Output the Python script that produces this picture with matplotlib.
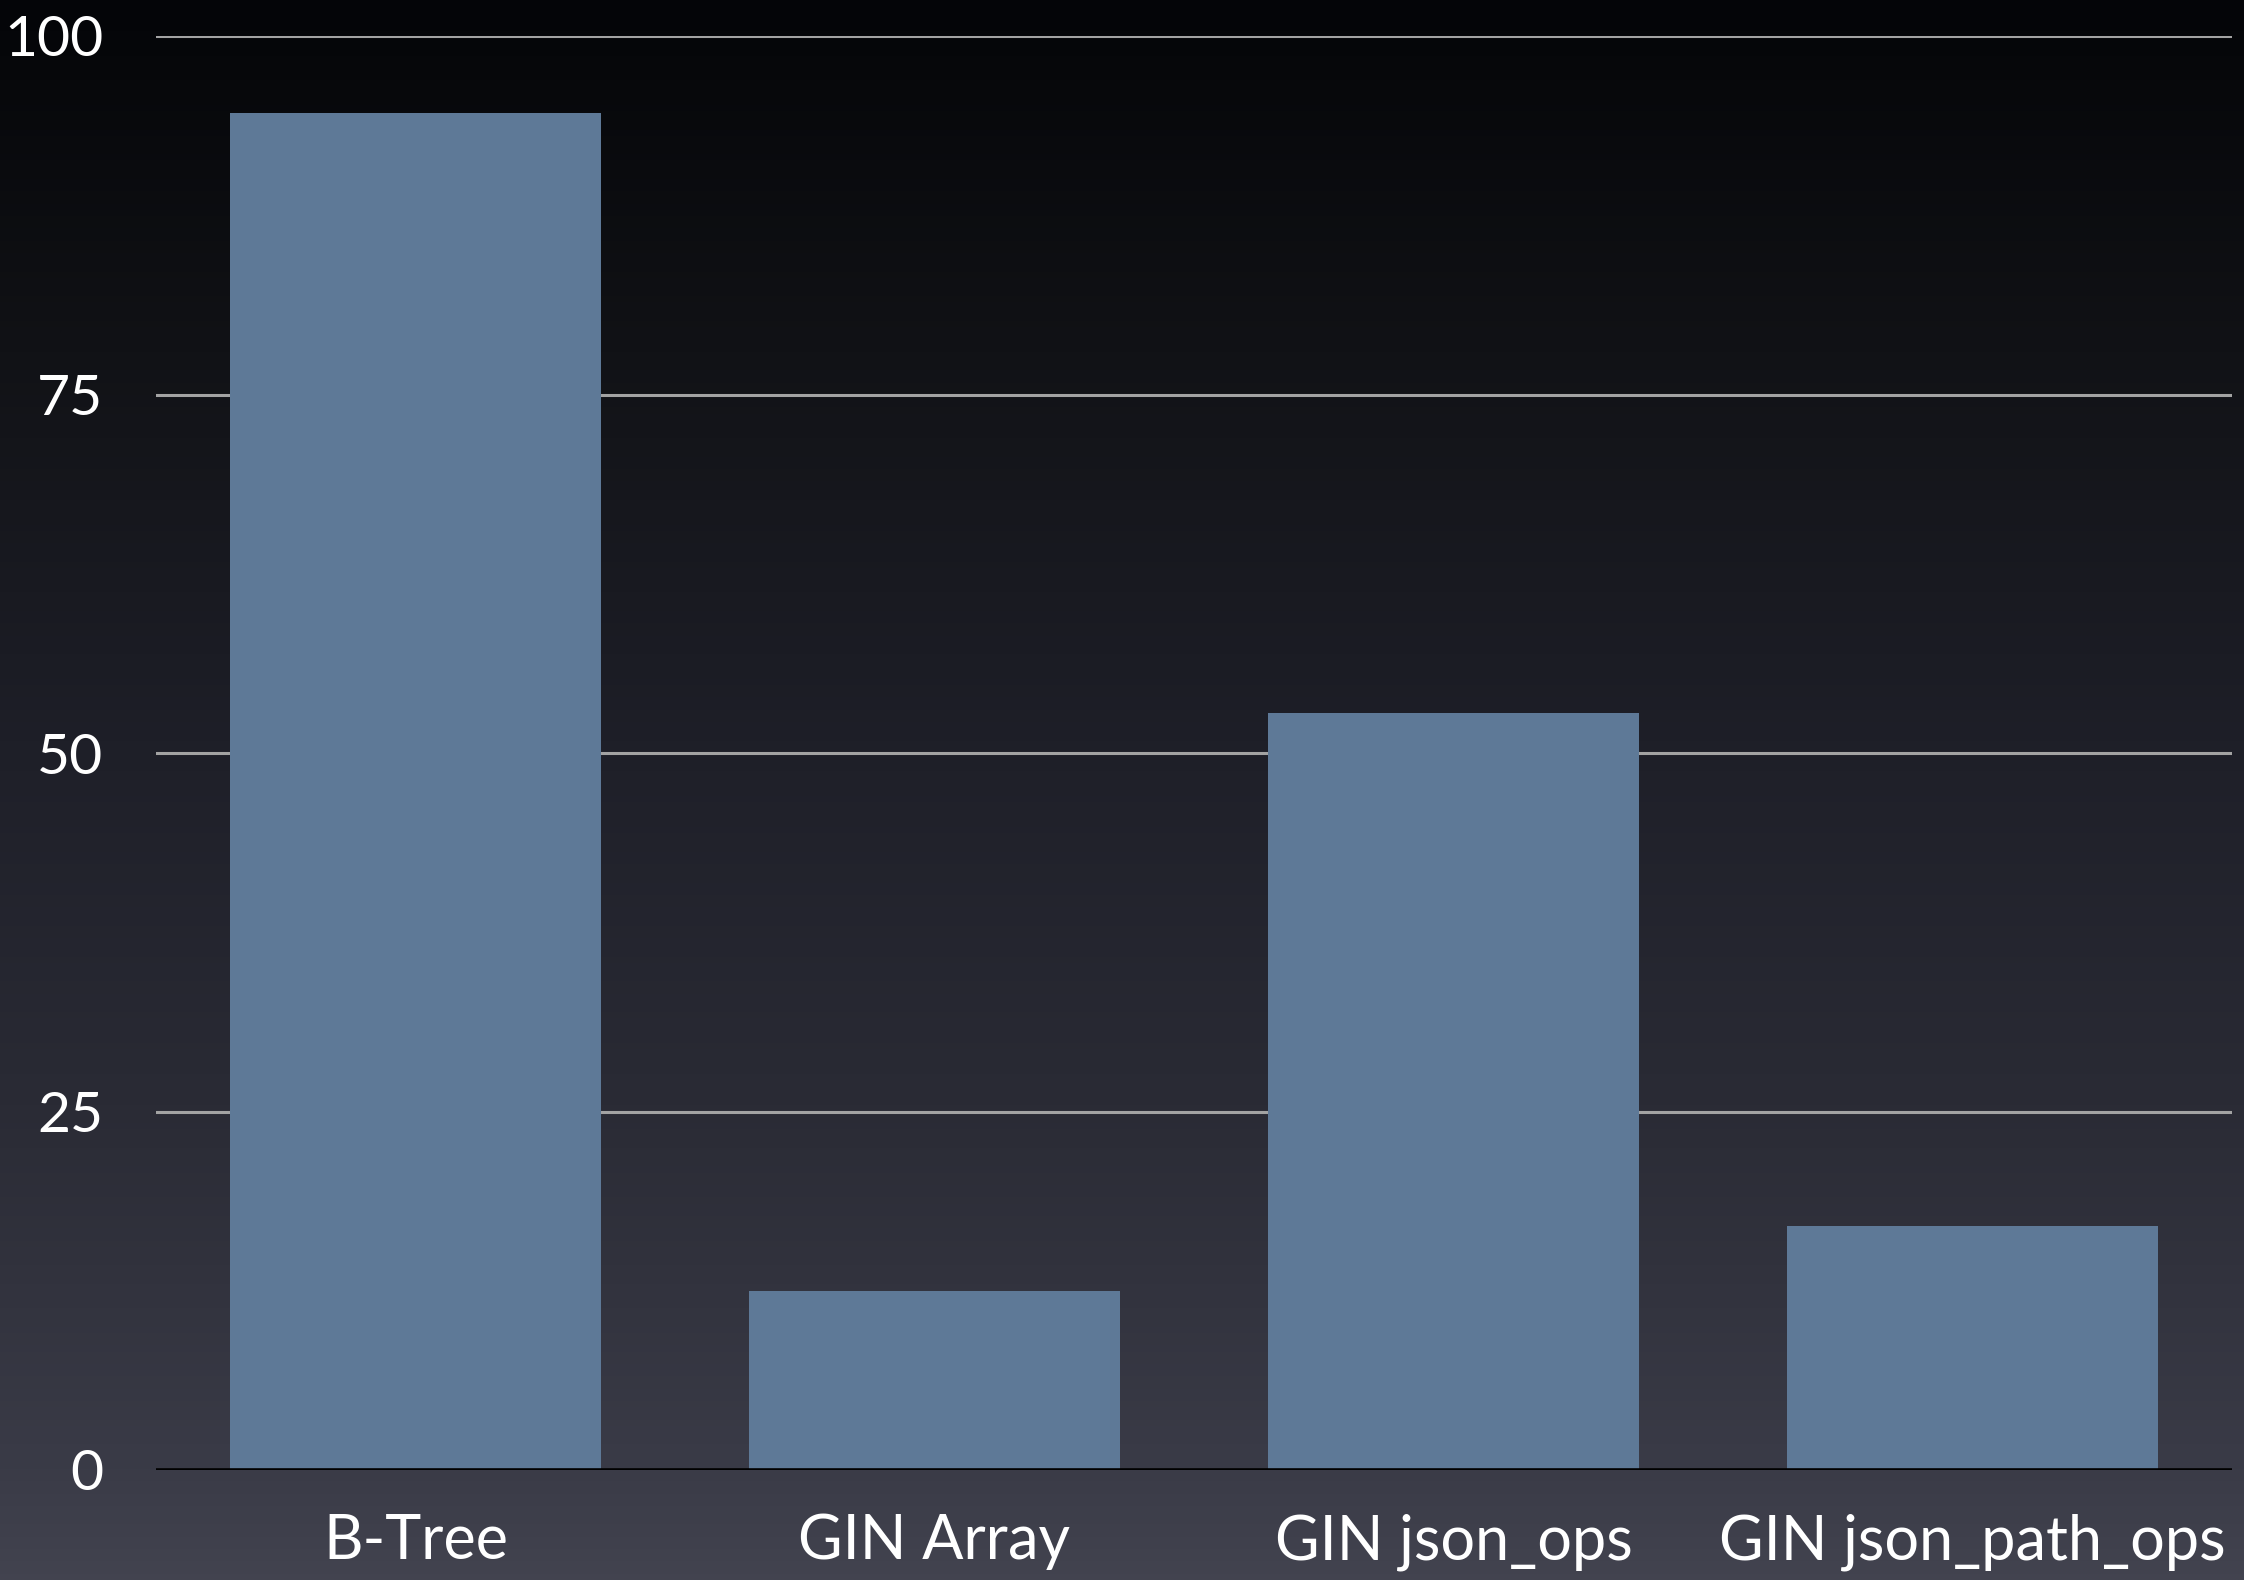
import matplotlib
matplotlib.use("Agg")
import matplotlib.pyplot as plt
import numpy as np
from matplotlib.colors import LinearSegmentedColormap

categories = ["B-Tree", "GIN Array", "GIN json_ops", "GIN json_path_ops"]
values = [94.6, 12.5, 52.8, 17.0]
yticks = [0, 25, 50, 75, 100]
ytick_labels = ["0", "25", "50", "75", "100"]

plt.rcParams['font.family'] = ['Lato', 'DejaVu Sans']

fig = plt.figure(figsize=(22.44, 15.8), dpi=100)

# background gradient
bg = fig.add_axes([0, 0, 1, 1], zorder=-10)
stops = [(0.0, "#040508"), (0.22, "#111216"), (0.47, "#1e1f28"),
         (0.70, "#2a2b35"), (0.93, "#3a3b47"), (1.0, "#42434f")]
cmap = LinearSegmentedColormap.from_list("bg", stops)
grad = np.linspace(0, 1, 512).reshape(-1, 1)
bg.imshow(grad, aspect="auto", cmap=cmap, extent=[0, 1, 1, 0])
bg.set_xlim(0, 1); bg.set_ylim(1, 0)
bg.axis("off")

ax = fig.add_axes([156/2244, 1 - 1470/1580, (2232-156)/2244, (1470-36)/1580])
ax.set_facecolor("none")

x = np.arange(len(categories))
ax.bar(x, values, width=0.714, color="#5e7997", zorder=3)

ax.set_xlim(-0.5, 3.5)
ax.set_ylim(0, 100)
ax.set_yticks(yticks)
ax.set_yticklabels(ytick_labels)
ax.set_xticks(x)
ax.set_xticklabels(categories)

for t in [25, 50, 75, 100]:
    ax.axhline(t, color="#a3a3a3", lw=2.2, zorder=1)
ax.axhline(0, color="#000000", lw=2.6, zorder=4)

for s in ax.spines.values():
    s.set_visible(False)
ax.tick_params(axis="both", length=0, colors="white")
ax.tick_params(axis="y", pad=38, labelsize=41)
ax.tick_params(axis="x", pad=31, labelsize=44)

fig.savefig("out.png", dpi=100)
